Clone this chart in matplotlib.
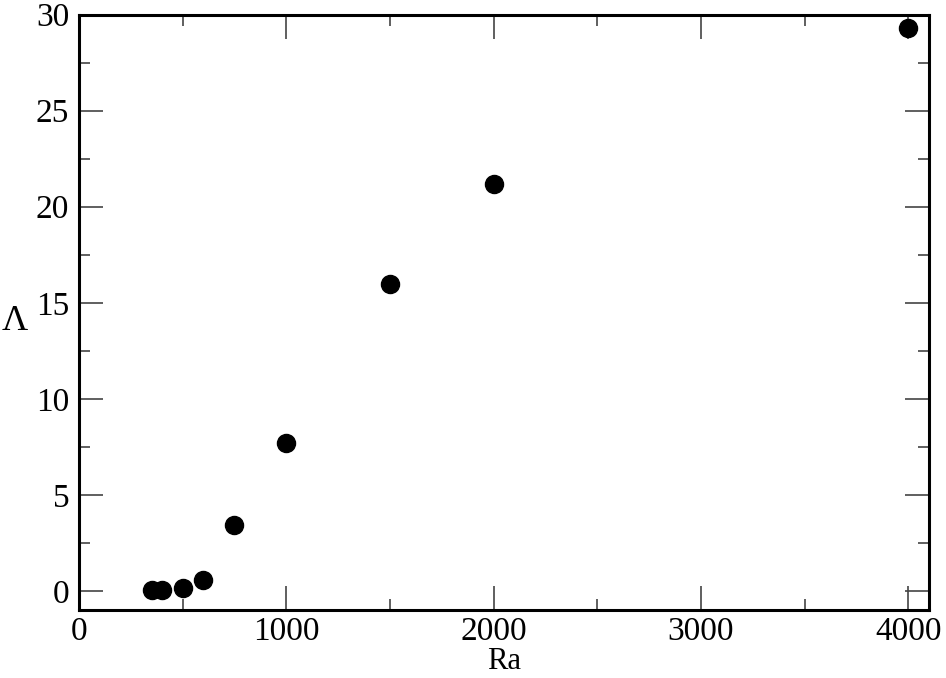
import matplotlib
matplotlib.use("Agg")
import matplotlib.pyplot as plt
from matplotlib.ticker import MultipleLocator

# Lambda vs Rayleigh number
ra = [350, 400, 500, 600, 750, 1000, 1500, 2000, 4000]
lam = [0.02, 0.05, 0.15, 0.55, 3.45, 7.7, 16.0, 21.2, 29.3]

plt.rcParams['font.family'] = ['Liberation Serif', 'DejaVu Serif']

fig = plt.figure(figsize=(9.46, 6.78), dpi=100)
ax = fig.add_axes([0.0835, 0.1003, 0.8985, 0.878])

ax.plot(ra, lam, 'o', color='black', markersize=13, linestyle='none')

ax.set_xlim(0, 4100)
ax.set_ylim(-1, 30)
ax.xaxis.set_major_locator(MultipleLocator(1000))
ax.xaxis.set_minor_locator(MultipleLocator(500))
ax.yaxis.set_major_locator(MultipleLocator(5))
ax.yaxis.set_minor_locator(MultipleLocator(2.5))

ax.tick_params(which='both', direction='in', top=True, right=True,
               color='#444444', width=1.2, labelsize=24)
ax.tick_params(axis='y', pad=7)
ax.tick_params(axis='x', pad=5)
ax.tick_params(which='major', length=17)
ax.tick_params(which='minor', length=8)
for s in ax.spines.values():
    s.set_linewidth(2.2)

ax.set_xlabel('Ra', fontsize=22, labelpad=0)
ax.set_ylabel('Λ', fontsize=26, rotation=0, va='center')
ax.yaxis.set_label_coords(-0.075, 0.485)

fig.savefig('out.png', dpi=100)
